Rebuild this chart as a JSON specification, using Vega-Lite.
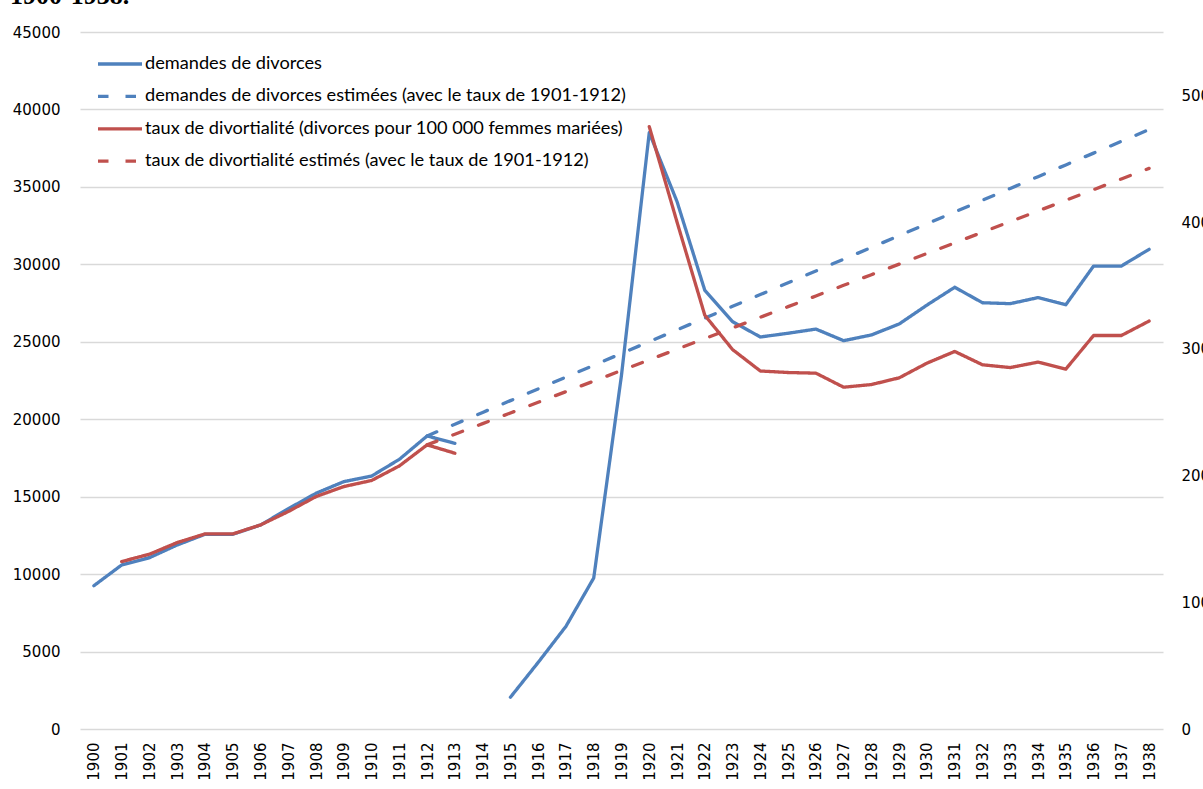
{
  "$schema": "https://vega.github.io/schema/vega-lite/v6.json",
  "autosize": "none",
  "padding": {"left": 80, "top": 32, "right": 40, "bottom": 60},
  "width": 1083,
  "height": 697,
  "background": "white",
  "title": {"text": "1900-1938.", "anchor": "start", "frame": "group", "font": "Liberation Serif", "fontSize": 26, "fontWeight": "bold", "color": "black", "baseline": "alphabetic", "offset": 17, "dx": -70, "dy": 22},
  "datasets": {
    "demandes": [
      {"year": 1900, "series": "demandes de divorces", "value": 9250},
      {"year": 1901, "series": "demandes de divorces", "value": 10590},
      {"year": 1902, "series": "demandes de divorces", "value": 11060},
      {"year": 1903, "series": "demandes de divorces", "value": 11880},
      {"year": 1904, "series": "demandes de divorces", "value": 12570},
      {"year": 1905, "series": "demandes de divorces", "value": 12570},
      {"year": 1906, "series": "demandes de divorces", "value": 13170},
      {"year": 1907, "series": "demandes de divorces", "value": 14220},
      {"year": 1908, "series": "demandes de divorces", "value": 15220},
      {"year": 1909, "series": "demandes de divorces", "value": 15970},
      {"year": 1910, "series": "demandes de divorces", "value": 16330},
      {"year": 1911, "series": "demandes de divorces", "value": 17410},
      {"year": 1912, "series": "demandes de divorces", "value": 18920},
      {"year": 1913, "series": "demandes de divorces", "value": 18440},
      {"year": 1914, "series": "demandes de divorces", "value": null},
      {"year": 1915, "series": "demandes de divorces", "value": 2050},
      {"year": 1916, "series": "demandes de divorces", "value": 4300},
      {"year": 1917, "series": "demandes de divorces", "value": 6630},
      {"year": 1918, "series": "demandes de divorces", "value": 9750},
      {"year": 1919, "series": "demandes de divorces", "value": 22850},
      {"year": 1920, "series": "demandes de divorces", "value": 38500},
      {"year": 1921, "series": "demandes de divorces", "value": 34050},
      {"year": 1922, "series": "demandes de divorces", "value": 28320},
      {"year": 1923, "series": "demandes de divorces", "value": 26300},
      {"year": 1924, "series": "demandes de divorces", "value": 25310},
      {"year": 1925, "series": "demandes de divorces", "value": 25550},
      {"year": 1926, "series": "demandes de divorces", "value": 25820},
      {"year": 1927, "series": "demandes de divorces", "value": 25070},
      {"year": 1928, "series": "demandes de divorces", "value": 25440},
      {"year": 1929, "series": "demandes de divorces", "value": 26150},
      {"year": 1930, "series": "demandes de divorces", "value": 27370},
      {"year": 1931, "series": "demandes de divorces", "value": 28520},
      {"year": 1932, "series": "demandes de divorces", "value": 27520},
      {"year": 1933, "series": "demandes de divorces", "value": 27460},
      {"year": 1934, "series": "demandes de divorces", "value": 27850},
      {"year": 1935, "series": "demandes de divorces", "value": 27390},
      {"year": 1936, "series": "demandes de divorces", "value": 29890},
      {"year": 1937, "series": "demandes de divorces", "value": 29890},
      {"year": 1938, "series": "demandes de divorces", "value": 30970},
      {"year": 1912, "series": "demandes de divorces estimées (avec le taux de 1901-1912)", "value": 18920},
      {"year": 1913, "series": "demandes de divorces estimées (avec le taux de 1901-1912)", "value": 19680},
      {"year": 1914, "series": "demandes de divorces estimées (avec le taux de 1901-1912)", "value": 20440},
      {"year": 1915, "series": "demandes de divorces estimées (avec le taux de 1901-1912)", "value": 21200},
      {"year": 1916, "series": "demandes de divorces estimées (avec le taux de 1901-1912)", "value": 21960},
      {"year": 1917, "series": "demandes de divorces estimées (avec le taux de 1901-1912)", "value": 22720},
      {"year": 1918, "series": "demandes de divorces estimées (avec le taux de 1901-1912)", "value": 23480},
      {"year": 1919, "series": "demandes de divorces estimées (avec le taux de 1901-1912)", "value": 24250},
      {"year": 1920, "series": "demandes de divorces estimées (avec le taux de 1901-1912)", "value": 25010},
      {"year": 1921, "series": "demandes de divorces estimées (avec le taux de 1901-1912)", "value": 25770},
      {"year": 1922, "series": "demandes de divorces estimées (avec le taux de 1901-1912)", "value": 26530},
      {"year": 1923, "series": "demandes de divorces estimées (avec le taux de 1901-1912)", "value": 27290},
      {"year": 1924, "series": "demandes de divorces estimées (avec le taux de 1901-1912)", "value": 28050},
      {"year": 1925, "series": "demandes de divorces estimées (avec le taux de 1901-1912)", "value": 28810},
      {"year": 1926, "series": "demandes de divorces estimées (avec le taux de 1901-1912)", "value": 29570},
      {"year": 1927, "series": "demandes de divorces estimées (avec le taux de 1901-1912)", "value": 30330},
      {"year": 1928, "series": "demandes de divorces estimées (avec le taux de 1901-1912)", "value": 31090},
      {"year": 1929, "series": "demandes de divorces estimées (avec le taux de 1901-1912)", "value": 31850},
      {"year": 1930, "series": "demandes de divorces estimées (avec le taux de 1901-1912)", "value": 32620},
      {"year": 1931, "series": "demandes de divorces estimées (avec le taux de 1901-1912)", "value": 33380},
      {"year": 1932, "series": "demandes de divorces estimées (avec le taux de 1901-1912)", "value": 34140},
      {"year": 1933, "series": "demandes de divorces estimées (avec le taux de 1901-1912)", "value": 34900},
      {"year": 1934, "series": "demandes de divorces estimées (avec le taux de 1901-1912)", "value": 35660},
      {"year": 1935, "series": "demandes de divorces estimées (avec le taux de 1901-1912)", "value": 36420},
      {"year": 1936, "series": "demandes de divorces estimées (avec le taux de 1901-1912)", "value": 37180},
      {"year": 1937, "series": "demandes de divorces estimées (avec le taux de 1901-1912)", "value": 37940},
      {"year": 1938, "series": "demandes de divorces estimées (avec le taux de 1901-1912)", "value": 38700}
    ],
    "taux": [
      {"year": 1900, "series": "taux de divortialité (divorces pour 100 000 femmes mariées)", "value": null},
      {"year": 1901, "series": "taux de divortialité (divorces pour 100 000 femmes mariées)", "value": 132.1},
      {"year": 1902, "series": "taux de divortialité (divorces pour 100 000 femmes mariées)", "value": 137.9},
      {"year": 1903, "series": "taux de divortialité (divorces pour 100 000 femmes mariées)", "value": 147.1},
      {"year": 1904, "series": "taux de divortialité (divorces pour 100 000 femmes mariées)", "value": 153.9},
      {"year": 1905, "series": "taux de divortialité (divorces pour 100 000 femmes mariées)", "value": 153.9},
      {"year": 1906, "series": "taux de divortialité (divorces pour 100 000 femmes mariées)", "value": 161.0},
      {"year": 1907, "series": "taux de divortialité (divorces pour 100 000 femmes mariées)", "value": 171.6},
      {"year": 1908, "series": "taux de divortialité (divorces pour 100 000 femmes mariées)", "value": 183.4},
      {"year": 1909, "series": "taux de divortialité (divorces pour 100 000 femmes mariées)", "value": 191.3},
      {"year": 1910, "series": "taux de divortialité (divorces pour 100 000 femmes mariées)", "value": 196.1},
      {"year": 1911, "series": "taux de divortialité (divorces pour 100 000 femmes mariées)", "value": 207.6},
      {"year": 1912, "series": "taux de divortialité (divorces pour 100 000 femmes mariées)", "value": 224.2},
      {"year": 1913, "series": "taux de divortialité (divorces pour 100 000 femmes mariées)", "value": 217.6},
      {"year": 1914, "series": "taux de divortialité (divorces pour 100 000 femmes mariées)", "value": null},
      {"year": 1915, "series": "taux de divortialité (divorces pour 100 000 femmes mariées)", "value": null},
      {"year": 1916, "series": "taux de divortialité (divorces pour 100 000 femmes mariées)", "value": null},
      {"year": 1917, "series": "taux de divortialité (divorces pour 100 000 femmes mariées)", "value": null},
      {"year": 1918, "series": "taux de divortialité (divorces pour 100 000 femmes mariées)", "value": null},
      {"year": 1919, "series": "taux de divortialité (divorces pour 100 000 femmes mariées)", "value": null},
      {"year": 1920, "series": "taux de divortialité (divorces pour 100 000 femmes mariées)", "value": 475.3},
      {"year": 1921, "series": "taux de divortialité (divorces pour 100 000 femmes mariées)", "value": 400.0},
      {"year": 1922, "series": "taux de divortialité (divorces pour 100 000 femmes mariées)", "value": 326.5},
      {"year": 1923, "series": "taux de divortialité (divorces pour 100 000 femmes mariées)", "value": 299.4},
      {"year": 1924, "series": "taux de divortialité (divorces pour 100 000 femmes mariées)", "value": 282.5},
      {"year": 1925, "series": "taux de divortialité (divorces pour 100 000 femmes mariées)", "value": 281.3},
      {"year": 1926, "series": "taux de divortialité (divorces pour 100 000 femmes mariées)", "value": 280.8},
      {"year": 1927, "series": "taux de divortialité (divorces pour 100 000 femmes mariées)", "value": 269.7},
      {"year": 1928, "series": "taux de divortialité (divorces pour 100 000 femmes mariées)", "value": 271.8},
      {"year": 1929, "series": "taux de divortialité (divorces pour 100 000 femmes mariées)", "value": 277.1},
      {"year": 1930, "series": "taux de divortialité (divorces pour 100 000 femmes mariées)", "value": 288.7},
      {"year": 1931, "series": "taux de divortialité (divorces pour 100 000 femmes mariées)", "value": 297.9},
      {"year": 1932, "series": "taux de divortialité (divorces pour 100 000 femmes mariées)", "value": 287.4},
      {"year": 1933, "series": "taux de divortialité (divorces pour 100 000 femmes mariées)", "value": 285.2},
      {"year": 1934, "series": "taux de divortialité (divorces pour 100 000 femmes mariées)", "value": 289.5},
      {"year": 1935, "series": "taux de divortialité (divorces pour 100 000 femmes mariées)", "value": 284.0},
      {"year": 1936, "series": "taux de divortialité (divorces pour 100 000 femmes mariées)", "value": 310.5},
      {"year": 1937, "series": "taux de divortialité (divorces pour 100 000 femmes mariées)", "value": 310.5},
      {"year": 1938, "series": "taux de divortialité (divorces pour 100 000 femmes mariées)", "value": 321.9},
      {"year": 1912, "series": "taux de divortialité estimés (avec le taux de 1901-1912)", "value": 224.2},
      {"year": 1913, "series": "taux de divortialité estimés (avec le taux de 1901-1912)", "value": 232.6},
      {"year": 1914, "series": "taux de divortialité estimés (avec le taux de 1901-1912)", "value": 241.0},
      {"year": 1915, "series": "taux de divortialité estimés (avec le taux de 1901-1912)", "value": 249.4},
      {"year": 1916, "series": "taux de divortialité estimés (avec le taux de 1901-1912)", "value": 257.8},
      {"year": 1917, "series": "taux de divortialité estimés (avec le taux de 1901-1912)", "value": 266.2},
      {"year": 1918, "series": "taux de divortialité estimés (avec le taux de 1901-1912)", "value": 274.5},
      {"year": 1919, "series": "taux de divortialité estimés (avec le taux de 1901-1912)", "value": 282.9},
      {"year": 1920, "series": "taux de divortialité estimés (avec le taux de 1901-1912)", "value": 291.3},
      {"year": 1921, "series": "taux de divortialité estimés (avec le taux de 1901-1912)", "value": 299.7},
      {"year": 1922, "series": "taux de divortialité estimés (avec le taux de 1901-1912)", "value": 308.1},
      {"year": 1923, "series": "taux de divortialité estimés (avec le taux de 1901-1912)", "value": 316.5},
      {"year": 1924, "series": "taux de divortialité estimés (avec le taux de 1901-1912)", "value": 324.9},
      {"year": 1925, "series": "taux de divortialité estimés (avec le taux de 1901-1912)", "value": 333.3},
      {"year": 1926, "series": "taux de divortialité estimés (avec le taux de 1901-1912)", "value": 341.7},
      {"year": 1927, "series": "taux de divortialité estimés (avec le taux de 1901-1912)", "value": 350.1},
      {"year": 1928, "series": "taux de divortialité estimés (avec le taux de 1901-1912)", "value": 358.5},
      {"year": 1929, "series": "taux de divortialité estimés (avec le taux de 1901-1912)", "value": 366.8},
      {"year": 1930, "series": "taux de divortialité estimés (avec le taux de 1901-1912)", "value": 375.2},
      {"year": 1931, "series": "taux de divortialité estimés (avec le taux de 1901-1912)", "value": 383.6},
      {"year": 1932, "series": "taux de divortialité estimés (avec le taux de 1901-1912)", "value": 392.0},
      {"year": 1933, "series": "taux de divortialité estimés (avec le taux de 1901-1912)", "value": 400.4},
      {"year": 1934, "series": "taux de divortialité estimés (avec le taux de 1901-1912)", "value": 408.8},
      {"year": 1935, "series": "taux de divortialité estimés (avec le taux de 1901-1912)", "value": 417.2},
      {"year": 1936, "series": "taux de divortialité estimés (avec le taux de 1901-1912)", "value": 425.6},
      {"year": 1937, "series": "taux de divortialité estimés (avec le taux de 1901-1912)", "value": 434.0},
      {"year": 1938, "series": "taux de divortialité estimés (avec le taux de 1901-1912)", "value": 442.4}
    ]
  },
  "config": {
    "view": {"stroke": null},
    "font": "DejaVu Sans",
    "axis": {"labelFont": "DejaVu Sans", "labelFontSize": 15, "labelColor": "#000000", "domain": false, "ticks": false, "title": null},
    "line": {"invalid": "break-paths-show-domains"},
    "legend": {
      "orient": "none", "legendX": 16, "legendY": 22, "padding": 0, "title": null,
      "symbolType": "stroke", "symbolSize": 1936, "symbolStrokeWidth": 3.3,
      "labelFont": "Lato", "labelFontSize": 18.2, "labelColor": "#000000", "labelLimit": 1000, "labelOffset": 1,
      "clipHeight": 20, "rowPadding": 12.4
    }
  },
  "encoding": {
    "x": {"field": "year", "type": "ordinal", "axis": {"labelAngle": 270, "labelAlign": "right", "labelBaseline": "middle", "labelPadding": 13, "grid": false}},
    "color": {"field": "series", "type": "nominal",
      "scale": {"domain": ["demandes de divorces", "demandes de divorces estimées (avec le taux de 1901-1912)", "taux de divortialité (divorces pour 100 000 femmes mariées)", "taux de divortialité estimés (avec le taux de 1901-1912)"],
                "range": ["#4F81BD", "#4F81BD", "#C0504D", "#C0504D"]},
      "legend": {"title": null}},
    "strokeDash": {"field": "series", "type": "nominal",
      "scale": {"domain": ["demandes de divorces", "demandes de divorces estimées (avec le taux de 1901-1912)", "taux de divortialité (divorces pour 100 000 femmes mariées)", "taux de divortialité estimés (avec le taux de 1901-1912)"],
                "range": [[1, 0], [10.5, 17], [1, 0], [10.5, 17]]},
      "legend": {"title": null}}
  },
  "layer": [
    {
      "data": {"name": "demandes"},
      "mark": {"type": "line", "strokeWidth": 3.3, "strokeCap": "round", "strokeJoin": "round"},
      "encoding": {
        "y": {"field": "value", "type": "quantitative", "scale": {"domain": [0, 45000], "nice": false, "zero": true},
          "axis": {"orient": "left", "values": [0, 5000, 10000, 15000, 20000, 25000, 30000, 35000, 40000, 45000], "format": "d", "grid": true, "gridColor": "#D9D9D9", "gridWidth": 1.3, "labelPadding": 20}}
      }
    },
    {
      "data": {"name": "taux"},
      "mark": {"type": "line", "strokeWidth": 3.3, "strokeCap": "round", "strokeJoin": "round"},
      "encoding": {
        "y": {"field": "value", "type": "quantitative", "scale": {"domain": [0, 550], "nice": false, "zero": true},
          "axis": {"orient": "right", "values": [0, 100, 200, 300, 400, 500], "format": "d", "grid": false, "labelPadding": 18}}
      }
    }
  ],
  "resolve": {"scale": {"y": "independent"}}
}
